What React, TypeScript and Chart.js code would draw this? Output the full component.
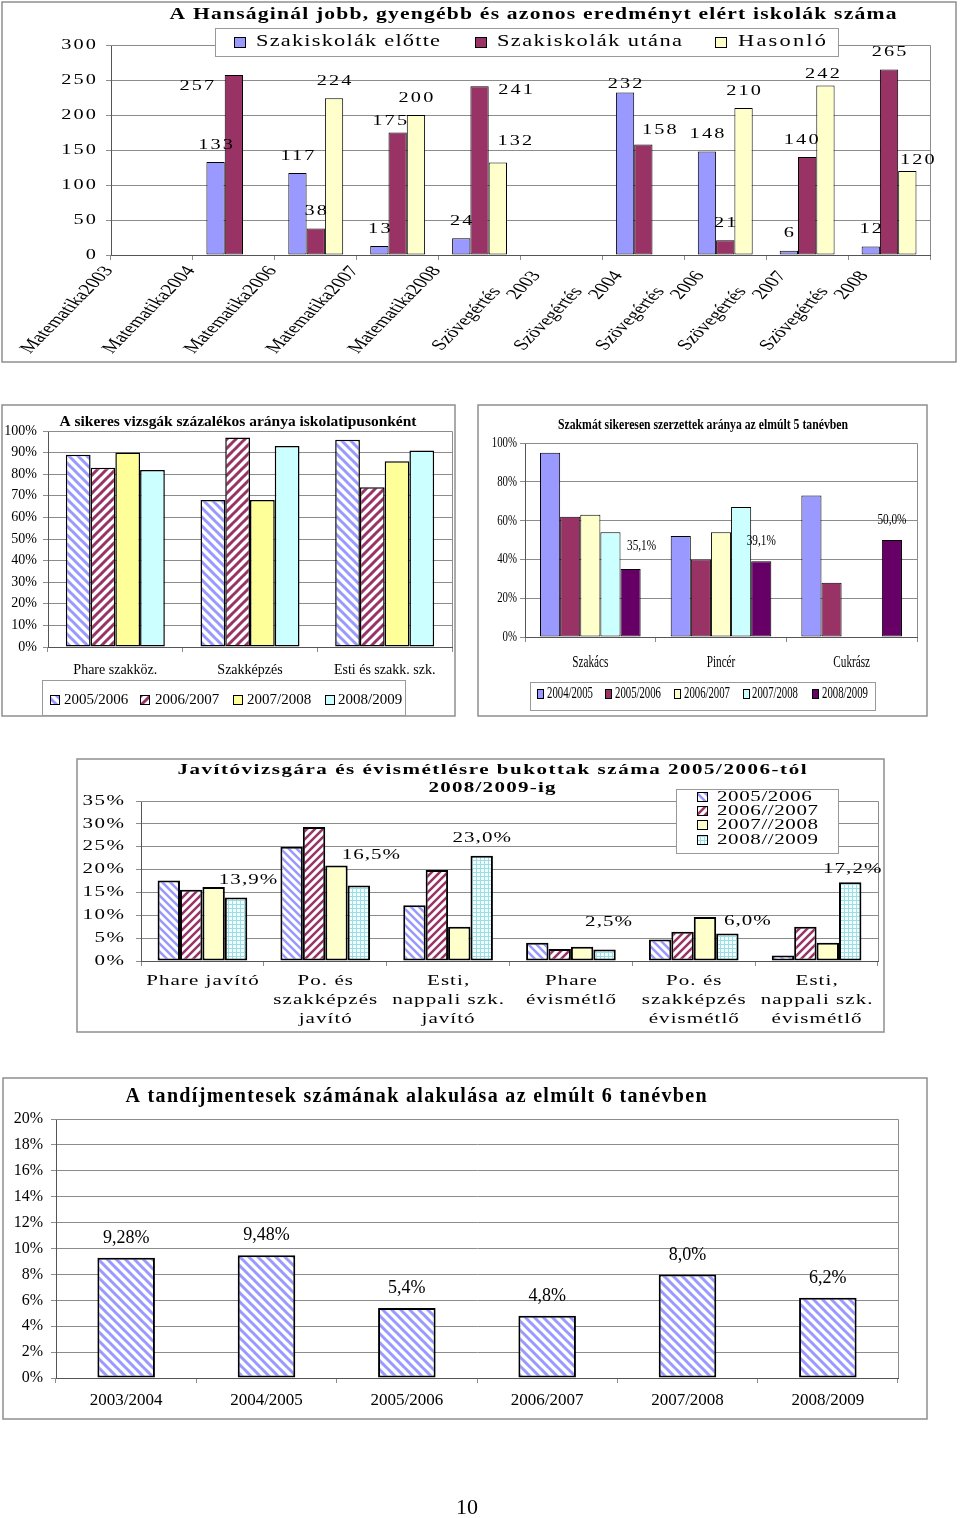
import React, { useEffect, useRef } from 'react';
import { Chart, registerables } from 'chart.js';
Chart.register(...registerables);

const W = 960, H = 1518;
const SERIF = '"Liberation Serif", "Times New Roman", Times, serif';
const font = (px: number, bold = false) => `${bold ? 'bold ' : ''}${px}px ${SERIF}`;
const GRID = '#8c8c8c';
const AXIS = '#555555';
const FRAME = '#8f8f8f';

// ---------------- Chart 1 data ----------------
const c1Title = 'A Hanságinál jobb, gyengébb és azonos eredményt elért iskolák száma';
const c1Categories = ['Matematika2003', 'Matematika2004', 'Matematika2006', 'Matematika2007', 'Matematika2008',
  'Szövegértés 2003', 'Szövegértés 2004', 'Szövegértés 2006', 'Szövegértés 2007', 'Szövegértés 2008'];
const c1SeriesNames = ['Szakiskolák előtte', 'Szakiskolák utána', 'Hasonló'];
const c1Before = [null, 133, 117, 13, 24, null, 232, 148, 6, 12];
const c1After = [null, 257, 38, 175, 241, null, 158, 21, 140, 265];
const c1Similar = [null, null, 224, 200, 132, null, null, 210, 242, 120];
const c1Max = 300, c1Step = 50;
// label nudges (style only)
const c1BeforeNudge = [[0, 0], [0, 0], [0, 0], [0, 0], [0, 0], [0, 0], [0, 9], [0, 0], [0, 0], [0, 0]];
const c1AfterNudge = [[0, 0], [-37, 28], [0, 0], [-8, 6], [36, 21], [0, 0], [16, 3], [0, 0], [-6, 0], [0, 0]];
const c1SimilarNudge = [[0, 0], [0, 0], [0, 0], [0, 0], [17, -4], [0, 0], [0, 0], [0, 0], [-3, 6], [10, 6]];

// ---------------- Chart 2 data ----------------
const c2Title = 'A sikeres vizsgák százalékos aránya iskolatipusonként';
const c2Categories = ['Phare szakköz.', 'Szakképzés', 'Esti és szakk. szk.'];
const c2SeriesNames = ['2005/2006', '2006/2007', '2007/2008', '2008/2009'];
const c2S1 = [89, 68, 96];
const c2S2 = [83, 97, 74];
const c2S3 = [90, 68, 86];
const c2S4 = [82, 93, 91];
const c2Max = 100, c2Step = 10;

// ---------------- Chart 3 data ----------------
const c3Title = 'Szakmát sikeresen szerzettek aránya az elmúlt 5 tanévben';
const c3Categories = ['Szakács', 'Pincér', 'Cukrász'];
const c3SeriesNames = ['2004/2005', '2005/2006', '2006/2007', '2007/2008', '2008/2009'];
const c3S1 = [95, 52, 73];
const c3S2 = [62, 40, 28];
const c3S3 = [63, 54, null];
const c3S4 = [54, 67, null];
const c3S5 = [35.1, 39.1, 50.0];
const c3Max = 100, c3Step = 20;
const c3LabelNudge = [[11, -3], [0, 0], [0, 0]];

// ---------------- Chart 4 data ----------------
const c4TitleLines = ['Javítóvizsgára és évismétlésre bukottak száma 2005/2006-tól', '2008/2009-ig'];
const c4Categories = [['Phare javító'], ['Po. és', 'szakképzés', 'javító'], ['Esti,', 'nappali szk.', 'javító'],
  ['Phare', 'évismétlő'], ['Po. és', 'szakképzés', 'évismétlő'], ['Esti,', 'nappali szk.', 'évismétlő']];
const c4SeriesNames = ['2005/2006', '2006//2007', '2007//2008', '2008//2009'];
const c4S1 = [17.6, 25.0, 12.2, 4.0, 4.7, 1.2];
const c4S2 = [15.6, 29.3, 19.9, 2.6, 6.4, 7.5];
const c4S3 = [16.2, 20.9, 7.5, 3.1, 9.6, 4.0];
const c4S4 = [13.9, 16.5, 23.0, 2.5, 6.0, 17.2];
const c4Max = 35, c4Step = 5;
const c4LabelNudge = [[12, -2], [12, -15], [0, -3], [4, -12], [20, 3], [2, 2]];

// ---------------- Chart 5 data ----------------
const c5Title = 'A tandíjmentesek számának alakulása az elmúlt 6 tanévben';
const c5Categories = ['2003/2004', '2004/2005', '2005/2006', '2006/2007', '2007/2008', '2008/2009'];
const c5Values = [9.28, 9.48, 5.4, 4.8, 8.0, 6.2];
const c5Max = 20, c5Step = 2;
const pageNumber = '10';

// ---------------- helpers ----------------
const pct = (v: number) => {
  const dec = Math.abs(v * 10 - Math.round(v * 10)) < 1e-9 ? 1 : 2;
  return v.toFixed(dec).replace('.', ',') + '%';
};

type TOpts = { font: string; align?: 'left' | 'center' | 'right'; sx?: number; sp?: number; w?: number; color?: string };
function drawText(ctx: CanvasRenderingContext2D, s: string, x: number, y: number, o: TOpts) {
  const c: any = ctx;
  ctx.save();
  ctx.font = o.font;
  c.letterSpacing = '0px';
  ctx.textAlign = 'left';
  ctx.textBaseline = 'middle';
  ctx.fillStyle = o.color || '#000';
  const n = Array.from(s).length;
  const w0 = ctx.measureText(s).width;
  let sx = o.sx || 0;
  let sp = o.sp || 0;
  if (o.w != null) {
    if (!sx) sx = o.w / (w0 + sp * (n - 1));
    else if (o.sp == null) sp = (o.w / sx - w0) / Math.max(1, n - 1);
  }
  if (!sx) sx = 1;
  if (sp) c.letterSpacing = `${sp}px`;
  const inner = w0 + sp * (n - 1);
  ctx.translate(x, y);
  ctx.scale(sx, 1);
  const x0 = o.align === 'right' ? -inner : o.align === 'left' ? 0 : -inner / 2;
  ctx.fillText(s, x0, 0);
  ctx.restore();
}

function shearText(ctx: CanvasRenderingContext2D, s: string, x: number, y: number, f: string, stretch: number) {
  ctx.save();
  ctx.font = f;
  ctx.fillStyle = '#000';
  ctx.textAlign = 'right';
  ctx.textBaseline = 'middle';
  ctx.translate(x, y);
  ctx.scale(stretch, 1);
  ctx.rotate(-Math.atan(stretch));
  ctx.fillText(s, 0, 0);
  ctx.restore();
}

function frame(ctx: CanvasRenderingContext2D, x1: number, y1: number, x2: number, y2: number) {
  ctx.save();
  ctx.strokeStyle = FRAME;
  ctx.lineWidth = 1.5;
  ctx.strokeRect(x1, y1, x2 - x1, y2 - y1);
  ctx.restore();
}

function plotBorder(ctx: CanvasRenderingContext2D, a: any) {
  ctx.save();
  ctx.strokeStyle = GRID;
  ctx.lineWidth = 1;
  ctx.beginPath();
  ctx.moveTo(a.left, a.top + 0.5);
  ctx.lineTo(a.right + 0.5, a.top + 0.5);
  ctx.lineTo(a.right + 0.5, a.bottom);
  ctx.stroke();
  ctx.restore();
}

function legendBox(ctx: CanvasRenderingContext2D, x: number, y: number, w: number, h: number) {
  ctx.save();
  ctx.fillStyle = '#fff';
  ctx.fillRect(x, y, w, h);
  ctx.strokeStyle = '#999';
  ctx.lineWidth = 1;
  ctx.strokeRect(x + 0.5, y + 0.5, w, h);
  ctx.restore();
}

function swatch(ctx: CanvasRenderingContext2D, x: number, y: number, w: number, h: number, fill: any) {
  ctx.save();
  ctx.fillStyle = fill;
  ctx.fillRect(x, y, w, h);
  ctx.strokeStyle = '#000';
  ctx.lineWidth = 1;
  ctx.strokeRect(x + 0.5, y + 0.5, w - 1, h - 1);
  ctx.restore();
}

function stripes(fg: string, dir: 'back' | 'fwd', p: number, lw: number) {
  const c = document.createElement('canvas');
  c.width = p; c.height = p;
  const g = c.getContext('2d')!;
  g.fillStyle = '#fff';
  g.fillRect(0, 0, p, p);
  g.strokeStyle = fg;
  g.lineWidth = lw;
  g.beginPath();
  for (const k of [-p, 0, p]) {
    if (dir === 'back') { g.moveTo(k - 1, -1); g.lineTo(k + p + 1, p + 1); }
    else { g.moveTo(k - 1, p + 1); g.lineTo(k + p + 1, -1); }
  }
  g.stroke();
  return g.createPattern(c, 'repeat')!;
}

function gridPattern(bg: string, fg: string, p: number) {
  const c = document.createElement('canvas');
  c.width = p; c.height = p;
  const g = c.getContext('2d')!;
  g.fillStyle = bg;
  g.fillRect(0, 0, p, p);
  g.fillStyle = fg;
  g.fillRect(0, 0, p, 1);
  g.fillRect(0, 0, 1, p);
  return g.createPattern(c, 'repeat')!;
}

type Spec = {
  labels: any[];
  datasets: any[];
  catPct: number;
  area: [number, number, number, number];
  yMax: number;
  yStep: number;
  draw: (ctx: CanvasRenderingContext2D, ch: any) => void;
};

function build(canvas: HTMLCanvasElement, s: Spec) {
  return new Chart(canvas, {
    type: 'bar',
    data: {
      labels: s.labels,
      datasets: s.datasets.map((d) => ({
        barPercentage: 1,
        categoryPercentage: s.catPct,
        borderSkipped: false,
        borderColor: '#000',
        ...d,
      })),
    },
    options: {
      responsive: false,
      animation: false,
      devicePixelRatio: 1,
      events: [],
      layout: { padding: { left: s.area[0], top: s.area[1], right: W - s.area[2], bottom: H - s.area[3] } },
      plugins: { legend: { display: false }, title: { display: false }, tooltip: { enabled: false } },
      scales: {
        x: {
          offset: true,
          grid: { offset: true, drawOnChartArea: false, drawTicks: true, tickLength: 5, color: GRID },
          border: { color: AXIS, width: 1 },
          ticks: { display: false },
          afterFit: (sc: any) => { sc.height = 0; },
        },
        y: {
          min: 0,
          max: s.yMax,
          ticks: { stepSize: s.yStep, display: false },
          grid: { color: GRID, tickLength: 5, drawTicks: true },
          border: { color: AXIS, width: 1 },
          afterFit: (sc: any) => { sc.width = 0; },
        },
      },
    } as any,
    plugins: [{ id: 'overlay', afterDraw: (ch: any) => s.draw(ch.ctx, ch) }],
  });
}

function makeSpecs(): Spec[] {
  const blue2 = stripes('#9999ff', 'back', 9, 3);
  const maroon2 = stripes('#993366', 'fwd', 9, 3);
  const blue4 = stripes('#9999ff', 'back', 8, 2.5);
  const maroon4 = stripes('#993366', 'fwd', 8, 2.5);
  const cyan4 = gridPattern('#f0ffff', '#9fdde6', 4);
  const blue5 = stripes('#9999ff', 'back', 9, 3);

  // ---- Chart 1
  const c1Fills = ['#9999ff', '#993366', '#ffffcc'];
  const spec1: Spec = {
    labels: c1Categories,
    catPct: 0.67,
    area: [111, 45, 930, 255],
    yMax: c1Max, yStep: c1Step,
    datasets: [c1Before, c1After, c1Similar].map((d, i) => ({
      label: c1SeriesNames[i], data: d, backgroundColor: c1Fills[i], borderWidth: 1,
    })),
    draw: (ctx, ch) => {
      const a = ch.chartArea, xs = ch.scales.x, ys = ch.scales.y;
      frame(ctx, 2, 2, 956, 362);
      plotBorder(ctx, a);
      ys.ticks.forEach((t: any) => drawText(ctx, String(t.value), 96, ys.getPixelForValue(t.value), { font: font(14), align: 'right', sx: 1.45, sp: 1.5 }));
      const cw = (xs.right - xs.left) / c1Categories.length;
      c1Categories.forEach((lab, i) => {
        const tick = xs.getPixelForValue(i) - cw / 2;
        const parts = lab.split(' ');
        if (parts.length === 1) shearText(ctx, lab, tick - 2, a.bottom + 13, font(15), 1.45);
        else {
          shearText(ctx, parts[0], tick - 24, a.bottom + 34, font(15), 1.45);
          shearText(ctx, parts[1], tick + 16, a.bottom + 18, font(15), 1.45);
        }
      });
      const sets: any[] = [[c1Before, c1BeforeNudge], [c1After, c1AfterNudge], [c1Similar, c1SimilarNudge]];
      sets.forEach(([vals, nud], di) => {
        const meta = ch.getDatasetMeta(di);
        vals.forEach((v: any, i: number) => {
          if (v == null) return;
          const el: any = meta.data[i];
          drawText(ctx, String(v), el.x + nud[i][0], el.y - 17 + nud[i][1], { font: font(14), sx: 1.45, sp: 1.5 });
        });
      });
      drawText(ctx, c1Title, 533, 15, { font: font(16, true), w: 727, sx: 1.35 });
      legendBox(ctx, 215, 28, 623, 28);
      const lg = [[234, 256, 184], [475, 497, 185], [715, 738, 88]];
      lg.forEach((g, i) => {
        swatch(ctx, g[0], 37, 12, 11, c1Fills[i]);
        drawText(ctx, c1SeriesNames[i], g[1], 42, { font: font(16), align: 'left', sx: 1.4, w: g[2] });
      });
    },
  };

  // ---- Chart 2
  const c2Fills: any[] = [blue2, maroon2, '#ffff99', '#ccffff'];
  const spec2: Spec = {
    labels: c2Categories,
    catPct: 0.735,
    area: [48, 431, 452, 647],
    yMax: c2Max, yStep: c2Step,
    datasets: [c2S1, c2S2, c2S3, c2S4].map((d, i) => ({
      label: c2SeriesNames[i], data: d, backgroundColor: c2Fills[i], borderWidth: 1.5,
    })),
    draw: (ctx, ch) => {
      const a = ch.chartArea, xs = ch.scales.x, ys = ch.scales.y;
      frame(ctx, 2, 405, 455, 716);
      plotBorder(ctx, a);
      drawText(ctx, c2Title, 238, 422, { font: font(15, true), w: 357 });
      ys.ticks.forEach((t: any) => drawText(ctx, `${t.value}%`, 37, ys.getPixelForValue(t.value), { font: font(14), align: 'right' }));
      c2Categories.forEach((lab, i) => drawText(ctx, lab, xs.getPixelForValue(i), 670, { font: font(14) }));
      legendBox(ctx, 42, 680, 363, 35);
      const ix = [50, 140, 233, 325], tx = [64, 155, 247, 338];
      c2SeriesNames.forEach((n, i) => {
        swatch(ctx, ix[i], 695, 10, 10, c2Fills[i]);
        drawText(ctx, n, tx[i], 700, { font: font(15), align: 'left' });
      });
    },
  };

  // ---- Chart 3
  const c3Fills = ['#9999ff', '#993366', '#ffffcc', '#ccffff', '#660066'];
  const spec3: Spec = {
    labels: c3Categories,
    catPct: 0.77,
    area: [525, 443, 917, 637],
    yMax: c3Max, yStep: c3Step,
    datasets: [c3S1, c3S2, c3S3, c3S4, c3S5].map((d, i) => ({
      label: c3SeriesNames[i], data: d, backgroundColor: c3Fills[i], borderWidth: 1,
    })),
    draw: (ctx, ch) => {
      const a = ch.chartArea, xs = ch.scales.x, ys = ch.scales.y;
      frame(ctx, 478, 405, 927, 716);
      plotBorder(ctx, a);
      drawText(ctx, c3Title, 703, 425, { font: font(15, true), w: 290 });
      ys.ticks.forEach((t: any) => drawText(ctx, `${t.value}%`, 517, ys.getPixelForValue(t.value), { font: font(15), align: 'right', sx: 0.72 }));
      c3Categories.forEach((lab, i) => drawText(ctx, lab, xs.getPixelForValue(i), 663, { font: font(16), sx: 0.7 }));
      const meta = ch.getDatasetMeta(4);
      c3S5.forEach((v, i) => {
        if (v == null) return;
        const el: any = meta.data[i];
        drawText(ctx, pct(v), el.x + c3LabelNudge[i][0], el.y - 20 + c3LabelNudge[i][1], { font: font(15), sx: 0.75 });
      });
      legendBox(ctx, 530, 682, 345, 28);
      const ix = [537, 605, 674, 743, 812], tx = [547, 615, 684, 752, 822];
      c3SeriesNames.forEach((n, i) => {
        swatch(ctx, ix[i], 689, 7, 10, c3Fills[i]);
        drawText(ctx, n, tx[i], 694, { font: font(16), align: 'left', w: 46 });
      });
    },
  };

  // ---- Chart 4
  const c4Fills: any[] = [blue4, maroon4, '#ffffcc', cyan4];
  const spec4: Spec = {
    labels: c4Categories.map((l) => l.join(' ')),
    catPct: 0.73,
    area: [141, 801, 878, 961],
    yMax: c4Max, yStep: c4Step,
    datasets: [c4S1, c4S2, c4S3, c4S4].map((d, i) => ({
      label: c4SeriesNames[i], data: d, backgroundColor: c4Fills[i], borderWidth: 2,
    })),
    draw: (ctx, ch) => {
      const a = ch.chartArea, xs = ch.scales.x, ys = ch.scales.y;
      frame(ctx, 77, 759, 884, 1032);
      plotBorder(ctx, a);
      drawText(ctx, c4TitleLines[0], 492, 770, { font: font(14, true), w: 629, sx: 1.5 });
      drawText(ctx, c4TitleLines[1], 492, 788, { font: font(14, true), w: 127, sx: 1.5 });
      ys.ticks.forEach((t: any) => drawText(ctx, `${t.value}%`, 124, ys.getPixelForValue(t.value), { font: font(14), align: 'right', sx: 1.5, sp: 1 }));
      c4Categories.forEach((lines, i) => {
        lines.forEach((ln, k) => drawText(ctx, ln, xs.getPixelForValue(i), 981 + 19 * k, { font: font(14), sx: 1.5, sp: 0.7 }));
      });
      const meta = ch.getDatasetMeta(3);
      c4S4.forEach((v, i) => {
        const el: any = meta.data[i];
        drawText(ctx, pct(v), el.x + c4LabelNudge[i][0], el.y - 15 + c4LabelNudge[i][1], { font: font(14), sx: 1.5, sp: 0.7 });
      });
      legendBox(ctx, 676, 789, 162, 64);
      const ry = [797, 811, 825, 840];
      c4SeriesNames.forEach((n, i) => {
        swatch(ctx, 697, ry[i] - 5, 11, 10, c4Fills[i]);
        drawText(ctx, n, 717, ry[i], { font: font(14), align: 'left', sx: 1.5, sp: 0.4 });
      });
    },
  };

  // ---- Chart 5
  const spec5: Spec = {
    labels: c5Categories,
    catPct: 0.41,
    area: [56, 1119, 898, 1378],
    yMax: c5Max, yStep: c5Step,
    datasets: [{ label: c5Title, data: c5Values, backgroundColor: blue5, borderWidth: 2 }],
    draw: (ctx, ch) => {
      const a = ch.chartArea, xs = ch.scales.x, ys = ch.scales.y;
      frame(ctx, 3, 1078, 927, 1419);
      plotBorder(ctx, a);
      drawText(ctx, c5Title, 416, 1097, { font: font(20, true), w: 581, sx: 1 });
      ys.ticks.forEach((t: any) => drawText(ctx, `${t.value}%`, 43, ys.getPixelForValue(t.value), { font: font(16), align: 'right' }));
      c5Categories.forEach((lab, i) => drawText(ctx, lab, xs.getPixelForValue(i), 1401, { font: font(17) }));
      const meta = ch.getDatasetMeta(0);
      c5Values.forEach((v, i) => {
        const el: any = meta.data[i];
        drawText(ctx, pct(v), el.x, el.y - 19.5, { font: font(18) });
      });
      drawText(ctx, pageNumber, 467, 1508, { font: font(22) });
    },
  };

  return [spec1, spec2, spec3, spec4, spec5];
}

export default function App() {
  const refs = useRef<(HTMLCanvasElement | null)[]>([]);
  useEffect(() => {
    const specs = makeSpecs();
    const charts = specs.map((s, i) => build(refs.current[i]!, s));
    return () => charts.forEach((c) => c.destroy());
  }, []);
  return (
    <div style={{ position: 'absolute', left: 0, top: 0, width: W, height: H, background: '#fff', overflow: 'hidden' }}>
      {[0, 1, 2, 3, 4].map((i) => (
        <canvas
          key={i}
          ref={(el) => { refs.current[i] = el; }}
          width={W}
          height={H}
          style={{ position: 'absolute', left: 0, top: 0, width: W, height: H }}
        />
      ))}
    </div>
  );
}
